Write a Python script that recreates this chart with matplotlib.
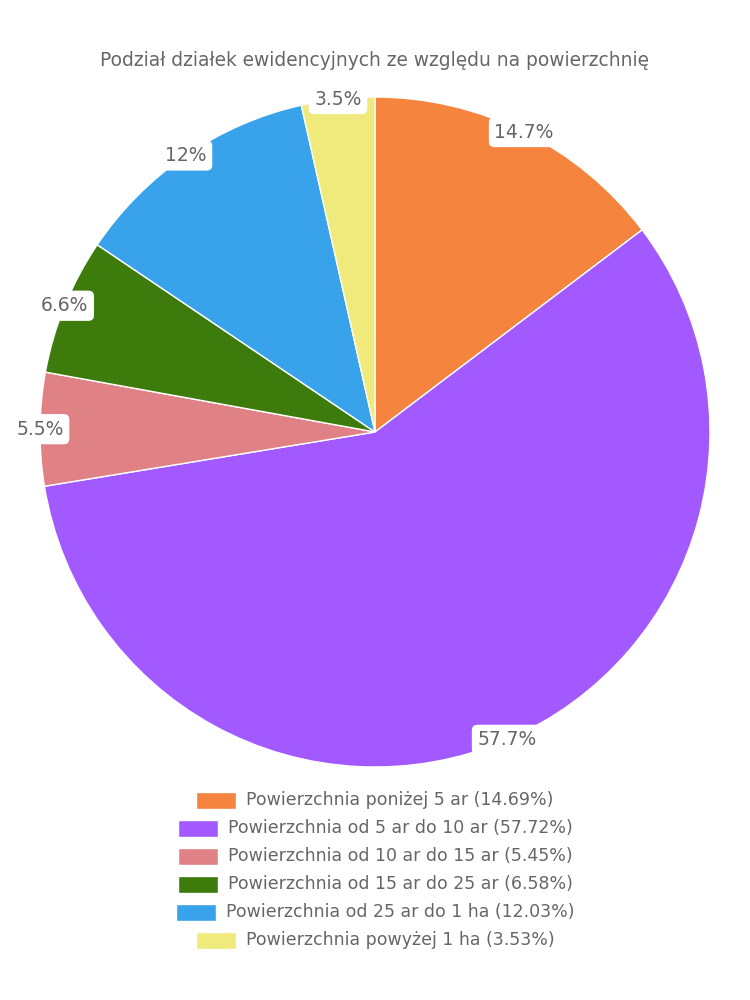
import numpy as np
import matplotlib.pyplot as plt
from matplotlib.patches import Rectangle

labels = ["Powierzchnia poniżej 5 ar", "Powierzchnia od 5 ar do 10 ar",
          "Powierzchnia od 10 ar do 15 ar", "Powierzchnia od 15 ar do 25 ar",
          "Powierzchnia od 25 ar do 1 ha", "Powierzchnia powyżej 1 ha"]
values = [14.69, 57.72, 5.45, 6.58, 12.03, 3.53]
short = ["14.7%", "57.7%", "5.5%", "6.6%", "12%", "3.5%"]
colors = ["#F5843F", "#A259FF", "#E08285", "#3D7C0C", "#38A2EB", "#F0EA7C"]

plt.rcParams['font.family'] = ['DejaVu Sans']
grey = "#666666"

fig = plt.figure(figsize=(7.5, 10), dpi=100)
cx, cy, r = 375, 432, 335
ax = fig.add_axes([(cx - r) / 750, (1000 - cy - r) / 1000, 2 * r / 750, 2 * r / 1000])
wedges, _ = ax.pie(values, colors=colors, startangle=90, counterclock=False,
                   radius=1, wedgeprops=dict(edgecolor="white", linewidth=1))
ax.set_xlim(-1, 1)
ax.set_ylim(-1, 1)
ax.axis("off")

# value labels on the rim
for w, s in zip(wedges, short):
    ang = np.deg2rad((w.theta1 + w.theta2) / 2)
    ax.text(np.cos(ang), np.sin(ang), s, ha="center", va="center", fontsize=13.5,
            color=grey, bbox=dict(boxstyle="round,pad=0.3,rounding_size=0.3",
                                  fc="white", ec="none"))

fig.text(0.5, 0.94, "Podział działek ewidencyjnych ze względu na powierzchnię",
         ha="center", va="center", fontsize=13.4, color=grey)

# legend, each row centred on its own
fig.canvas.draw()
renderer = fig.canvas.get_renderer()
box_w, box_h, gap = 40, 17, 10
for i, (lab, v, c) in enumerate(zip(labels, values, colors)):
    y = 1000 - (800 + 28 * i)
    t = fig.text(0, y / 1000, f"{lab} ({v:.2f}%)", ha="left", va="center",
                 fontsize=12.5, color=grey)
    tw = t.get_window_extent(renderer).width
    total = box_w + gap + tw
    x0 = 375 - total / 2
    t.set_x((x0 + box_w + gap) / 750)
    fig.patches.append(Rectangle((x0 / 750, (y - box_h / 2) / 1000), box_w / 750,
                                 box_h / 1000, transform=fig.transFigure,
                                 fc=c, ec="white", lw=1))

fig.savefig("out.png", dpi=100, facecolor="white")
